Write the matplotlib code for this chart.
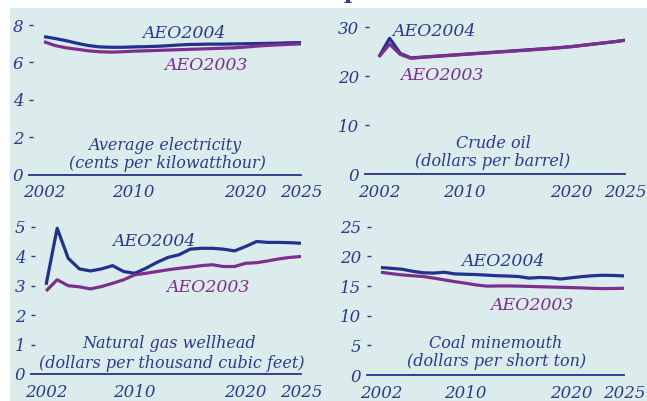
import matplotlib
matplotlib.use("Agg")
import matplotlib.pyplot as plt
from matplotlib.patches import Rectangle

years = list(range(2002, 2026))

elec_2004 = [7.38, 7.28, 7.16, 7.02, 6.90, 6.83, 6.81, 6.81, 6.83, 6.84, 6.86, 6.89,
             6.93, 6.96, 6.97, 6.98, 6.98, 6.99, 7.00, 7.01, 7.02, 7.03, 7.05, 7.06]
elec_2003 = [7.11, 6.90, 6.78, 6.70, 6.62, 6.57, 6.55, 6.57, 6.60, 6.62, 6.64, 6.66,
             6.68, 6.70, 6.72, 6.74, 6.76, 6.78, 6.82, 6.87, 6.91, 6.94, 6.97, 6.99]

oil_2004 = [23.9, 27.7, 24.6, 23.7, 23.85, 24.0, 24.15, 24.3, 24.45, 24.6, 24.75, 24.9,
            25.05, 25.2, 25.35, 25.5, 25.65, 25.8, 26.0, 26.25, 26.5, 26.75, 27.0, 27.3]
oil_2003 = [23.9, 26.5, 24.4, 23.6, 23.8, 23.95, 24.1, 24.25, 24.4, 24.55, 24.7, 24.85,
            25.0, 25.15, 25.3, 25.45, 25.6, 25.8, 26.0, 26.25, 26.5, 26.75, 27.0, 27.3]

gas_2004 = [3.03, 4.95, 3.93, 3.57, 3.50, 3.57, 3.68, 3.48, 3.42, 3.59, 3.79, 3.96,
            4.05, 4.24, 4.27, 4.27, 4.24, 4.18, 4.33, 4.50, 4.47, 4.47, 4.46, 4.44]
gas_2003 = [2.82, 3.20, 3.00, 2.96, 2.89, 2.97, 3.08, 3.20, 3.37, 3.42, 3.48, 3.54,
            3.59, 3.63, 3.68, 3.71, 3.65, 3.65, 3.76, 3.78, 3.84, 3.91, 3.96, 3.99]

coal_2004 = [18.13, 18.0, 17.85, 17.5, 17.25, 17.2, 17.34, 17.06, 17.0, 16.95, 16.85, 16.75,
             16.7, 16.62, 16.35, 16.45, 16.4, 16.2, 16.4, 16.6, 16.75, 16.83, 16.8, 16.72]
coal_2003 = [17.34, 17.1, 16.89, 16.75, 16.62, 16.35, 16.05, 15.75, 15.49, 15.2, 15.0, 15.02,
             15.03, 15.0, 14.95, 14.9, 14.85, 14.8, 14.75, 14.7, 14.62, 14.58, 14.6, 14.64]

xticks = [2002, 2010, 2020, 2025]

panels = [
    dict(s04=elec_2004, s03=elec_2003, yticks=[0, 2, 4, 6, 8], ytop=8.8,
         title="Average electricity", unit="(cents per kilowatthour)"),
    dict(s04=oil_2004, s03=oil_2003, yticks=[0, 10, 20, 30], ytop=33.0,
         title="Crude oil", unit="(dollars per barrel)"),
    dict(s04=gas_2004, s03=gas_2003, yticks=[0, 1, 2, 3, 4, 5], ytop=5.4,
         title="Natural gas wellhead", unit="(dollars per thousand cubic feet)"),
    dict(s04=coal_2004, s03=coal_2003, yticks=[0, 5, 10, 15, 20, 25], ytop=27.0,
         title="Coal minemouth", unit="(dollars per short ton)"),
]

W, H = 647, 401
geom = [
    (29, 301, 174.5, 10.1, 2000.66),
    (365, 625, 174, 12.3, 2000.7),
    (31, 301, 374, 215, 2000.64),
    (367, 624, 375, 215, 2000.68),
]
lab = [
    dict(a04=(184, 33), a03=(206, 66), t=(165, 145), u=(167, 163)),
    dict(a04=(434, 32), a03=(442, 75), t=(493, 144), u=(493, 162)),
    dict(a04=(154, 241), a03=(208, 287), t=(169, 344), u=(172, 363)),
    dict(a04=(503, 261), a03=(532, 306), t=(496, 343), u=(497, 362)),
]

TXT = "#2b3994"
C04 = "#22308f"
C03 = "#7d2f90"
BG = "#dcebeb"

plt.rcParams['font.family'] = ['DejaVu Serif']
fig = plt.figure(figsize=(W / 100, H / 100), dpi=100)
fig.patch.set_facecolor("white")
bg = Rectangle((10 / W, 0), 1, (H - 8) / H, transform=fig.transFigure,
               facecolor=BG, edgecolor="none", zorder=-10)
fig.patches.append(bg)

fig.text(343 / W, 1.0 + 2.5 / H, "prices", fontsize=16, fontweight="bold",
         color=TXT, ha="left", va="baseline")
fig.text(430 / W, 1.0 + 2.5 / H, "(2002 dollars)", fontsize=14, style="italic",
         color=TXT, ha="left", va="baseline")

for p, g, L in zip(panels, geom, lab):
    l, r, b, t, xl = g
    ax = fig.add_axes([l / W, 1 - b / H, (r - l) / W, (b - t) / H])
    ax.set_zorder(1)
    ax.set_facecolor("none")
    ax.set_xlim(xl, 2025)
    ax.set_ylim(0, p["ytop"])
    for s in ["top", "right", "left"]:
        ax.spines[s].set_visible(False)
    ax.spines["bottom"].set_color(C04)
    ax.spines["bottom"].set_linewidth(1.3)
    ax.plot(years, p["s04"], color=C04, lw=2.3, solid_capstyle="butt", zorder=3)
    ax.plot(years, p["s03"], color=C03, lw=2.3, solid_capstyle="butt", zorder=4)
    ax.set_xticks(xticks)
    ax.set_xticklabels([str(x) for x in xticks])
    ax.set_yticks(p["yticks"])
    ax.set_yticklabels([str(v) for v in p["yticks"]])
    ax.tick_params(axis="x", length=0, pad=7, labelsize=12, labelcolor=TXT)
    ax.tick_params(axis="y", length=3, width=1, direction="in", color=TXT, pad=4,
                   labelsize=12, labelcolor=TXT)
    for lbl in ax.get_xticklabels() + ax.get_yticklabels():
        lbl.set_fontstyle("italic")
    ax.yaxis.get_major_ticks()[0].tick1line.set_visible(False)

    def place(xy, text, color, size=11.5):
        fig.text(xy[0] / W, 1 - xy[1] / H, text, color=color, fontsize=size,
                 style="italic", ha="center", va="center", zorder=2)
    place(L["a04"], "AEO2004", TXT, 12.5)
    place(L["a03"], "AEO2003", C03, 12.5)
    place(L["t"], p["title"], TXT)
    place(L["u"], p["unit"], TXT)

fig.savefig("out.png", dpi=100, facecolor="white")
